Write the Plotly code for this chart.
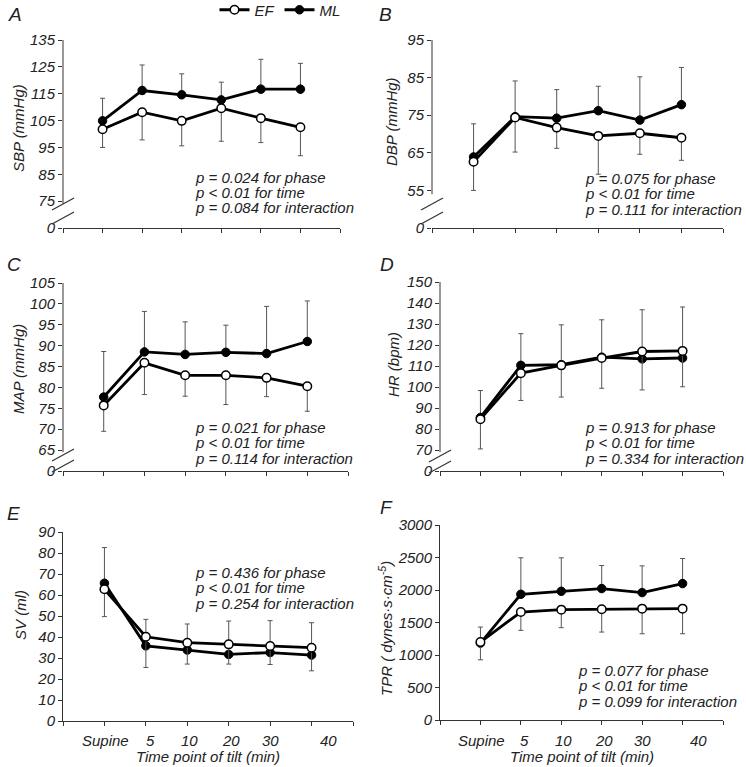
import plotly.graph_objects as go

# ---------------- data ----------------
time_labels = ["Supine", "5", "10", "20", "30", "40"]
time_index = [0, 1, 2, 3, 4, 5]

sbp_ef = [101.8, 108.1, 104.9, 109.6, 105.9, 102.5]
sbp_ml = [104.9, 116.2, 114.6, 112.7, 116.7, 116.7]
sbp_ml_sd = [8.4, 9.5, 7.8, 6.6, 11.1, 9.6]
sbp_ef_sd = [6.8, 10.3, 9.3, 12.3, 9.1, 10.6]

dbp_ef = [62.6, 74.4, 71.7, 69.5, 70.2, 69.0]
dbp_ml = [63.9, 74.6, 74.2, 76.2, 73.7, 77.8]
dbp_ml_sd = [8.8, 9.5, 7.6, 6.5, 11.5, 9.9]
dbp_ef_sd = [7.6, 9.2, 5.5, 10.2, 5.6, 6.0]

map_ef = [75.7, 85.9, 82.9, 82.9, 82.3, 80.3]
map_ml = [77.7, 88.5, 87.9, 88.4, 88.1, 91.0]
map_ml_sd = [10.9, 9.7, 7.8, 6.5, 11.3, 9.7]
map_ef_sd = [6.2, 7.6, 5.0, 7.0, 4.5, 6.0]

hr_ef = [84.7, 106.6, 110.3, 113.8, 116.9, 117.2]
hr_ml = [85.5, 110.3, 110.6, 114.2, 113.4, 113.8]
hr_ml_sd = [12.8, 15.1, 19.0, 17.8, 23.4, 24.3]
hr_ef_sd = [14.2, 13.0, 15.1, 14.4, 18.3, 17.1]

sv_ef = [62.7, 40.1, 37.3, 36.5, 35.7, 34.9]
sv_ml = [65.6, 35.8, 33.8, 31.7, 32.6, 31.4]
sv_ml_sd = [17.0, 12.6, 12.4, 15.9, 15.2, 15.4]
sv_ef_sd = [13.0, 14.6, 10.2, 9.4, 8.8, 11.0]

tpr_ef = [1199, 1661, 1698, 1703, 1713, 1713]
tpr_ml = [1183, 1934, 1980, 2022, 1960, 2099]
tpr_ml_sd = [247, 561, 515, 355, 411, 385]
tpr_ef_sd = [273, 282, 278, 350, 386, 386]

sbp_ticks = [65, 75, 85, 95, 105, 115, 125, 135]
sbp_ticktext = ["0", "75", "85", "95", "105", "115", "125", "135"]
dbp_ticks = [45, 55, 65, 75, 85, 95]
dbp_ticktext = ["0", "55", "65", "75", "85", "95"]
map_ticks = [60, 65, 70, 75, 80, 85, 90, 95, 100, 105]
map_ticktext = ["0", "65", "70", "75", "80", "85", "90", "95", "100", "105"]
hr_ticks = [60, 70, 80, 90, 100, 110, 120, 130, 140, 150]
hr_ticktext = ["0", "70", "80", "90", "100", "110", "120", "130", "140", "150"]
sv_ticks = [0, 10, 20, 30, 40, 50, 60, 70, 80, 90]
sv_ticktext = [str(v) for v in sv_ticks]
tpr_ticks = [0, 500, 1000, 1500, 2000, 2500, 3000]
tpr_ticktext = [str(v) for v in tpr_ticks]

y_titles = ["SBP (mmHg)", "DBP (mmHg)", "MAP (mmHg)", "HR (bpm)", "SV (ml)",
            "TPR ( dynes·s·cm<sup>-5</sup>)"]
panel_letters = ["A", "B", "C", "D", "E", "F"]
stats_text = [
    ["p = 0.024 for phase", "p < 0.01 for time", "p = 0.084 for interaction"],
    ["p = 0.075 for phase", "p < 0.01 for time", "p = 0.111 for interaction"],
    ["p = 0.021 for phase", "p < 0.01 for time", "p = 0.114 for interaction"],
    ["p = 0.913 for phase", "p < 0.01 for time", "p = 0.334 for interaction"],
    ["p = 0.436 for phase", "p < 0.01 for time", "p = 0.254 for interaction"],
    ["p = 0.077 for phase", "p < 0.01 for time", "p = 0.099 for interaction"],
]
x_title = "Time point of tilt (min)"

# ---------------- layout geometry (pixels) ----------------
W, H = 746, 767
FONT = "Liberation Sans, Arial, sans-serif"
TXT = "#222222"
AX = "#333333"


def fx(px):
    return px / W


def fy(py):
    return 1 - py / H


panels = [
    dict(ef=sbp_ef, ml=sbp_ml, efsd=sbp_ef_sd, mlsd=sbp_ml_sd, ticks=sbp_ticks, tt=sbp_ticktext,
         rng=[65, 135], dom_x=(63, 340), dom_y=(40, 228), brk=True, line_bottom=74,
         slashes=(24, 10), ytitle_xy=(18, 128), letter_xy=(15, 14), stat_xy=(194, 177)),
    dict(ef=dbp_ef, ml=dbp_ml, efsd=dbp_ef_sd, mlsd=dbp_ml_sd, ticks=dbp_ticks, tt=dbp_ticktext,
         rng=[45, 95], dom_x=(432, 723), dom_y=(40, 228), brk=True, line_bottom=54,
         slashes=(24, 10), ytitle_xy=(391, 122), letter_xy=(385, 14), stat_xy=(584, 178)),
    dict(ef=map_ef, ml=map_ml, efsd=map_ef_sd, mlsd=map_ml_sd, ticks=map_ticks, tt=map_ticktext,
         rng=[60, 105], dom_x=(63, 348), dom_y=(283, 471), brk=True, line_bottom=64.5,
         slashes=(16, 5), ytitle_xy=(18, 369), letter_xy=(14, 264), stat_xy=(194, 427)),
    dict(ef=hr_ef, ml=hr_ml, efsd=hr_ef_sd, mlsd=hr_ml_sd, ticks=hr_ticks, tt=hr_ticktext,
         rng=[60, 150], dom_x=(440, 723), dom_y=(282, 471), brk=True, line_bottom=69,
         slashes=(15, 4), ytitle_xy=(394, 365), letter_xy=(387, 264), stat_xy=(584, 427)),
    dict(ef=sv_ef, ml=sv_ml, efsd=sv_ef_sd, mlsd=sv_ml_sd, ticks=sv_ticks, tt=sv_ticktext,
         rng=[0, 90], dom_x=(63, 353), dom_y=(532, 721), brk=False, line_bottom=None,
         slashes=None, ytitle_xy=(20, 615), letter_xy=(14, 513), stat_xy=(194, 572)),
    dict(ef=tpr_ef, ml=tpr_ml, efsd=tpr_ef_sd, mlsd=tpr_ml_sd, ticks=tpr_ticks, tt=tpr_ticktext,
         rng=[0, 3000], dom_x=(440, 723), dom_y=(525, 720), brk=False, line_bottom=None,
         slashes=None, ytitle_xy=(385, 629), letter_xy=(386, 507), stat_xy=(577, 670)),
]

label_offsets = [0.03, 1.1, 2.05, 3.05, 4.0, 5.4]

fig = go.Figure()
annotations = []
shapes = []
zeros = [0] * len(time_index)

for i, p in enumerate(panels):
    n = "" if i == 0 else str(i + 1)
    xa, ya = "x" + n, "y" + n
    err_style = dict(type="data", symmetric=False, color="#555555", thickness=1, width=2.5)
    fig.add_trace(go.Scatter(
        x=time_index, y=p["ml"], name="ML", legendgroup="ML", legendrank=2,
        showlegend=(i == 0), mode="lines+markers", xaxis=xa, yaxis=ya,
        line=dict(color="black", width=2.8),
        marker=dict(symbol="circle", size=8.5, color="black", line=dict(color="black", width=1)),
        error_y=dict(array=p["mlsd"], arrayminus=zeros, **err_style)))
    fig.add_trace(go.Scatter(
        x=time_index, y=p["ef"], name="EF", legendgroup="EF", legendrank=1,
        showlegend=(i == 0), mode="lines+markers", xaxis=xa, yaxis=ya,
        line=dict(color="black", width=2.8),
        marker=dict(symbol="circle", size=8.5, color="white", line=dict(color="black", width=1.5)),
        error_y=dict(array=zeros, arrayminus=p["efsd"], **err_style)))

    tickfont = dict(family=FONT, size=15, color=TXT, style="italic")
    fig.layout["xaxis" + n] = dict(
        domain=[fx(p["dom_x"][0]), fx(p["dom_x"][1])], anchor=ya, range=[-1, 6],
        tickvals=list(range(-1, 7)), showticklabels=False, ticks="outside", ticklen=4,
        tickwidth=1, tickcolor=AX, showline=True, linecolor=AX, linewidth=1,
        showgrid=False, zeroline=False, fixedrange=True)
    fig.layout["yaxis" + n] = dict(
        domain=[fy(p["dom_y"][1]), fy(p["dom_y"][0])], anchor=xa, range=p["rng"],
        tickvals=p["ticks"], ticktext=p["tt"], tickfont=tickfont, ticks="outside",
        ticklen=4, tickwidth=1, tickcolor=AX, showline=not p["brk"], linecolor=AX,
        linewidth=1, showgrid=False, zeroline=False, fixedrange=True)

    xdom = xa + " domain"
    ydom = ya + " domain"
    if p["brk"]:
        shapes.append(dict(type="line", xref=xdom, yref=ya, x0=0, x1=0,
                           y0=p["line_bottom"], y1=p["rng"][1],
                           line=dict(color=AX, width=1)))
        for c in p["slashes"]:
            shapes.append(dict(type="line", xref=xdom, yref=ydom,
                               xsizemode="pixel", xanchor=0, x0=-11, x1=11,
                               ysizemode="pixel", yanchor=0, y0=c - 6, y1=c + 6,
                               line=dict(color=AX, width=1.2)))

    # panel letter
    annotations.append(dict(text=panel_letters[i], xref="paper", yref="paper",
                            x=fx(p["letter_xy"][0]), y=fy(p["letter_xy"][1]),
                            xanchor="center", yanchor="middle", showarrow=False,
                            font=dict(family=FONT, size=19, color=TXT, style="italic")))
    # y title
    annotations.append(dict(text=y_titles[i], xref="paper", yref="paper",
                            x=fx(p["ytitle_xy"][0]), y=fy(p["ytitle_xy"][1]),
                            xanchor="center", yanchor="middle", textangle=-90, showarrow=False,
                            font=dict(family=FONT, size=15, color=TXT, style="italic")))
    # stats
    for k, line in enumerate(stats_text[i]):
        annotations.append(dict(text=line, xref="paper", yref="paper",
                                x=fx(p["stat_xy"][0]), y=fy(p["stat_xy"][1] + 15.5 * k),
                                xanchor="left", yanchor="middle", showarrow=False,
                                borderpad=0,
                                font=dict(family=FONT, size=15, color=TXT, style="italic")))
    # x tick labels & title for bottom panels
    if i >= 4:
        for lab, xo in zip(time_labels, label_offsets):
            annotations.append(dict(text=lab, xref=xa, yref="paper", x=xo, y=fy(740),
                                    xanchor="center", yanchor="middle", showarrow=False,
                                    borderpad=0,
                                    font=dict(family=FONT, size=15, color=TXT, style="italic")))
        annotations.append(dict(text=x_title, xref=xa, yref="paper", x=2.5, y=fy(756.5),
                                xanchor="center", yanchor="middle", showarrow=False,
                                borderpad=0,
                                font=dict(family=FONT, size=15, color=TXT, style="italic")))

fig.update_layout(
    width=W, height=H, margin=dict(l=0, r=0, t=0, b=0, autoexpand=False),
    paper_bgcolor="white", plot_bgcolor="white",
    annotations=annotations, shapes=shapes,
    showlegend=True,
    legend=dict(orientation="h", xref="container", yref="container",
                x=fx(280), y=fy(10), xanchor="center", yanchor="middle",
                font=dict(family=FONT, size=15, color=TXT, style="italic"),
                itemwidth=30, tracegroupgap=0, bgcolor="rgba(0,0,0,0)"),
)

fig.write_html("out.html", config={"displayModeBar": False},
               post_script="document.body.style.margin='0px';document.body.style.padding='0px';")
